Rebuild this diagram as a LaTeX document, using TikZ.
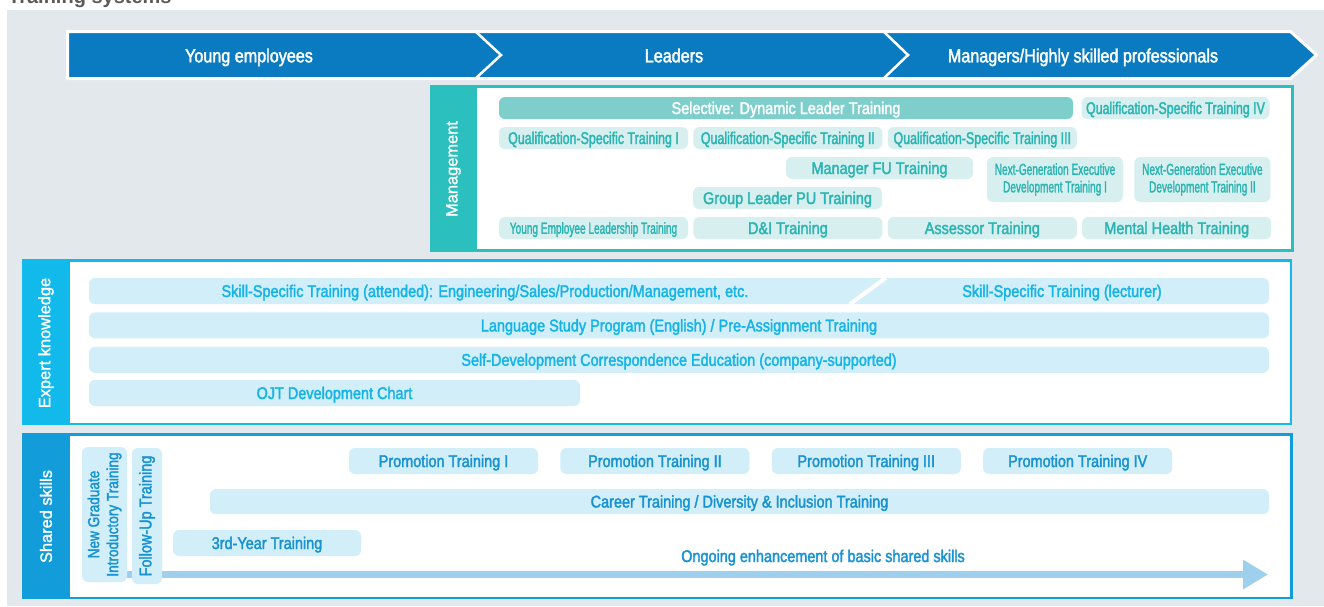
\documentclass[tikz,border=0pt]{standalone}
\usepackage{fontspec}
\setmainfont{Liberation Sans}
\newfontfamily\cfont[FakeStretch=0.85, FakeBold=2]{Liberation Sans}
\newfontfamily\qfont[FakeStretch=0.73, FakeBold=2]{Liberation Sans}
\newfontfamily\yfont[FakeStretch=0.63, FakeBold=1.6]{Liberation Sans}
\newfontfamily\sdfont[FakeBold=1.4]{Liberation Sans}
\usetikzlibrary{arrows.meta, positioning, calc}

\definecolor{bggrey}{HTML}{E3E8EC}
\definecolor{hdrblue}{HTML}{0A7BC1}
\definecolor{mteal}{HTML}{2BBFBD}
\definecolor{mtext}{HTML}{2AB5B3}
\definecolor{mfill}{HTML}{D7EFEF}
\definecolor{mdark}{HTML}{7ECFCC}
\definecolor{ecyan}{HTML}{12BAEC}
\definecolor{etext}{HTML}{14B4E8}
\definecolor{lfill}{HTML}{D2EEF9}
\definecolor{sblue}{HTML}{129DDA}
\definecolor{stext}{HTML}{1792D2}
\definecolor{arrblue}{HTML}{9ED0EE}
\definecolor{titlegrey}{HTML}{5A5A5A}

\begin{document}
\begin{tikzpicture}[x=1pt, y=-1pt,
  lbl/.style={font=\cfont\fontsize{17}{19}\selectfont},
  qlbl/.style={font=\qfont\fontsize{17}{19}\selectfont},
  ylbl/.style={font=\yfont\fontsize{16}{17.5}\selectfont},
  box/.style={rounded corners=6pt, inner sep=2pt, align=center, lbl},
  one/.style={text height=12pt, text depth=0pt},
  mbox/.style={box, fill=mfill, text=mtext, minimum width=189pt, minimum height=22pt},
  msel/.style={box, one, fill=mdark, text=white, minimum height=22pt},
  ebox/.style={box, one, fill=lfill, text=etext, minimum height=26pt},
  etxt/.style={lbl, one, text=etext, inner sep=0pt},
  sbox/.style={box, fill=lfill, text=stext, minimum height=26pt},
  stxt/.style={lbl, one, text=stext, inner sep=0pt},
  side/.style={text=white, font=\sdfont\fontsize{16.4}{18}\selectfont},
  hdr/.style={text height=13.6pt, text depth=0pt, text=white, font=\cfont\fontsize{19}{21}\selectfont},
  ongo/.style={draw=arrblue, line width=7pt, -{Triangle[length=25pt, width=28pt]}}]
\useasboundingbox (0,0) rectangle (1324,606);

% title, cut at the top edge
\node[anchor=base west, inner sep=0pt, text=titlegrey,
  font=\bfseries\fontsize{20}{22}\selectfont] (title) at (8,3) {Training systems};
\fill[bggrey] (7,10) rectangle (1324,606);

% career stage band
\filldraw[fill=hdrblue, draw=white, line width=3pt]
  (67.5,31.5) -- (1290.5,31.5) -- (1316.5,55) -- (1290.5,78.5) -- (67.5,78.5) -- cycle;
\draw[white, line width=2.5pt] (475,31) -- (501,55) -- (475,79);
\draw[white, line width=2.5pt] (883,31) -- (908,55) -- (883,79);
\node[hdr] (yng) at (249,55.5) {Young employees};
\node[hdr] (ldr) at (674,55.5) {Leaders};
\node[hdr] (mgr) at (1083,55.5) {Managers/Highly skilled professionals};

% management
\draw[mteal, line width=2.5pt, fill=white] (431.25,86.25) rectangle (1292.25,250.5);
\fill[mteal] (430,85) rectangle (477,251.75);
\node[side, rotate=90] (mgt) at (453.5,169) {Management};

\node[msel, minimum width=574pt] (sel) at (786,108) {Selective: Dynamic Leader Training};
\node[mbox, one, qlbl, minimum width=188pt] (q4) at (1175.5,108) {Qualification-Specific Training IV};
\node[mbox, one, qlbl] (q1) at (593.5,138) {Qualification-Specific Training I};
\node[mbox, one, qlbl, right=5pt of q1] (q2) {Qualification-Specific Training II};
\node[mbox, one, qlbl, right=5pt of q2] (q3) {Qualification-Specific Training III};
\node[mbox, one, minimum width=187pt] (mfu) at (879.5,168) {Manager FU Training};
\node[mbox, ylbl, minimum width=136pt, minimum height=45pt] (ng1) at (1055,179.5)
  {Next-Generation Executive\\Development Training I};
\node[mbox, ylbl, minimum width=136pt, minimum height=45pt, right=11pt of ng1] (ng2)
  {Next-Generation Executive\\Development Training II};
\node[mbox, one] (glpu) at (787.5,198) {Group Leader PU Training};
\node[mbox, ylbl, text height=11.5pt, text depth=0pt] (yel) at (593.5,228) {Young Employee Leadership Training};
\node[mbox, one, right=5pt of yel] (dni) {D\&I Training};
\node[mbox, one, right=5pt of dni] (asr) {Assessor Training};
\node[mbox, one, right=5pt of asr] (mht) {Mental Health Training};

% expert knowledge
\draw[ecyan, line width=2.5pt, fill=white] (23.25,260.5) rectangle (1291,423.75);
\fill[ecyan] (22,259.25) rectangle (70,425);
\node[side, rotate=90] (exk) at (46,343) {Expert knowledge};

\node[ebox, minimum width=1180pt] (skill) at (679,291) {};
\draw[white, line width=4pt] ([xshift=761pt]skill.south west) -- ([xshift=797pt]skill.north west);
\node[etxt] (skA) at (485,291) {Skill-Specific Training (attended): Engineering/Sales/Production/Management, etc.};
\node[etxt] (skB) at (1062,291) {Skill-Specific Training (lecturer)};
\node[ebox, minimum width=1180pt, below=8pt of skill] (lang) {Language Study Program (English) / Pre-Assignment Training};
\node[ebox, minimum width=1180pt, below=8pt of lang] (self) {Self-Development Correspondence Education (company-supported)};
\node[ebox, minimum width=491pt] (ojt) at (334.5,393) {OJT Development Chart};

% shared skills
\draw[sblue, line width=2.5pt, fill=white] (23.25,434.5) rectangle (1291.3,598);
\fill[sblue] (22,433.25) rectangle (70,599.25);
\node[side, rotate=90] (shs) at (46,516.5) {Shared skills};

\coordinate (ostart) at (100,574.5);
\coordinate (oend) at (1268,574.5);
\draw[ongo] (ostart) -- (oend);
\node[stxt] (ongt) at (823,556) {Ongoing enhancement of basic shared skills};

\node[sbox, rotate=90, minimum width=135pt, minimum height=45pt,
  font=\cfont\fontsize{16}{19}\selectfont] (ngit) at (104.5,514.5) {New Graduate\\Introductory Training};
\node[sbox, rotate=90, minimum width=136pt, minimum height=30pt] (fut) at (147,516) {Follow-Up Training};
\node[sbox, one, minimum width=189pt] (pt1) at (443.5,461) {Promotion Training I};
\node[sbox, one, minimum width=189pt, right=22pt of pt1] (pt2) {Promotion Training II};
\node[sbox, one, minimum width=189pt, right=22pt of pt2] (pt3) {Promotion Training III};
\node[sbox, one, minimum width=189pt, right=22pt of pt3] (pt4) {Promotion Training IV};
\node[sbox, one, minimum width=1059pt, minimum height=25pt] (car) at (739.5,501.5) {Career Training / Diversity \& Inclusion Training};
\node[sbox, one, minimum width=188pt] (tyt) at (267,543) {3rd-Year Training};
\end{tikzpicture}
\end{document}
